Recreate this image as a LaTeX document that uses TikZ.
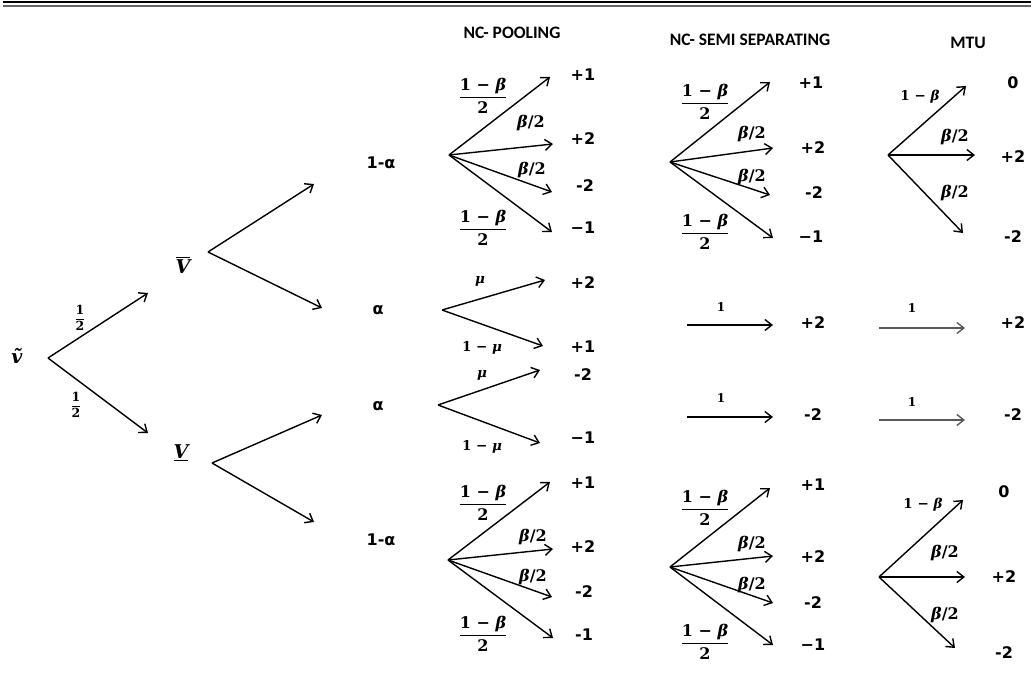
\documentclass[tikz,border=0pt]{standalone}
\usepackage{amsmath}
\usepackage{fontspec}
\setmainfont{DejaVu Sans}
\newfontfamily\hdfont{Carlito}
\newfontfamily\mfont{DejaVu Serif}
\usetikzlibrary{arrows.meta}
\tikzset{
  num/.style={inner sep=0pt,font=\fontsize{16}{18}\selectfont\bfseries},
  one/.style={inner sep=0pt,font=\mfont\fontsize{12}{14}\selectfont\bfseries},
  hd/.style={inner sep=0pt,font=\hdfont\fontsize{17.5}{19}\selectfont\bfseries},
  mth/.style={inner sep=0pt,font=\mfont\fontsize{16}{18}\selectfont\bfseries},
  smth/.style={inner sep=0pt,font=\mfont\fontsize{16}{18}\selectfont\bfseries},
  tmth/.style={inner sep=0pt,font=\mfont\fontsize{13.5}{15}\selectfont\bfseries},
  hmth/.style={inner sep=0pt,font=\mfont\fontsize{12.5}{14}\selectfont\bfseries},
  big/.style={inner sep=0pt,font=\mfont\fontsize{19}{21}\selectfont\bfseries\itshape},
  arr/.style={line width=1.4pt,-{Straight Barb[length=7pt,width=11pt]}},
  garr/.style={arr,draw=black!65}
}
\newcommand{\bt}{{\itshape β}}
\newcommand{\mmu}{{\itshape μ}}
\newcommand{\fb}{$\dfrac{\text{1 − \bt}}{\text{2}}$}
\newcommand{\bh}{\bt/2}
\begin{document}
\begin{tikzpicture}[x=1pt,y=-1pt]
\useasboundingbox (0,0) rectangle (1034,677);
\fill[white] (0,0) rectangle (1034,677);
% top rules
\draw[line width=2pt] (3,2.5) -- (1031,2.5);
\draw[line width=1.4pt,black!60] (3,6) -- (1031,6);
% headers
\node[hd] (h1) at (512,33) {NC- POOLING};
\node[hd] (h2) at (750,40) {NC- SEMI SEPARATING};
\node[hd] (h3) at (968,43) {MTU};
% root
\node[big] (rl) at (17,356) {ṽ};
\coordinate (r) at (48,358);
\coordinate (rt1) at (148,293);
\coordinate (rt2) at (148,433);
\draw[arr] (r) -- (rt1);
\draw[arr] (r) -- (rt2);
\node[hmth] (h12a) at (80,318) {$\dfrac{\text{1}}{\text{2}}$};
\node[hmth] (h12b) at (76,405) {$\dfrac{\text{1}}{\text{2}}$};
% V bar / V under
\node[big] (Vbl) at (183,265) {$\overline{\text{V}}$};
\node[big] (Vul) at (181,453) {$\underline{\text{V}}$};
\coordinate (Vb) at (208,252);
\coordinate (Vu) at (212,463);
\coordinate (vt1) at (314,184);
\coordinate (vt2) at (322,308);
\coordinate (vt3) at (322,415);
\coordinate (vt4) at (314,522);
\draw[arr] (Vb) -- (vt1);
\draw[arr] (Vb) -- (vt2);
\draw[arr] (Vu) -- (vt3);
\draw[arr] (Vu) -- (vt4);
\node[num] (a1) at (381,163) {1-α};
\node[num] (a2) at (378,310) {α};
\node[num] (a3) at (378,406) {α};
\node[num] (a4) at (381,540) {1-α};
% ---------- NC pooling ----------
\coordinate (P1) at (449,155);
\coordinate (P1a) at (550,77);
\coordinate (P1b) at (553,144);
\coordinate (P1c) at (552,192);
\coordinate (P1d) at (552,232);
\foreach \t in {P1a,P1b,P1c,P1d} \draw[arr] (P1) -- (\t);
\node[num] (p1o1) at (583,75) {+1};
\node[num] (p1o2) at (583,139) {+2};
\node[num] (p1o3) at (585,186) {-2};
\node[num] (p1o4) at (583,228) {−1};
\node[mth] (p1f1) at (483,96) {\fb};
\node[smth] (p1b1) at (531,123) {\bh};
\node[smth] (p1b2) at (532,170) {\bh};
\node[mth] (p1f2) at (483,228) {\fb};
\coordinate (P2) at (442,310);
\coordinate (P2a) at (545,280);
\coordinate (P2b) at (543,346);
\draw[arr] (P2) -- (P2a);
\draw[arr] (P2) -- (P2b);
\node[tmth] (p2m1) at (480,281) {\mmu};
\node[tmth] (p2m2) at (482,348) {1 − \mmu};
\node[num] (p2o1) at (583,283) {+2};
\node[num] (p2o2) at (583,347) {+1};
\coordinate (P3) at (438,405);
\coordinate (P3a) at (540,370);
\coordinate (P3b) at (540,443);
\draw[arr] (P3) -- (P3a);
\draw[arr] (P3) -- (P3b);
\node[tmth] (p3m1) at (482,375) {\mmu};
\node[tmth] (p3m2) at (482,447) {1 − \mmu};
\node[num] (p3o1) at (583,375) {-2};
\node[num] (p3o2) at (583,438) {−1};
\coordinate (P4) at (448,560);
\coordinate (P4a) at (550,482);
\coordinate (P4b) at (553,549);
\coordinate (P4c) at (552,597);
\coordinate (P4d) at (553,638);
\foreach \t in {P4a,P4b,P4c,P4d} \draw[arr] (P4) -- (\t);
\node[num] (p4o1) at (583,483) {+1};
\node[num] (p4o2) at (583,547) {+2};
\node[num] (p4o3) at (584,592) {-2};
\node[num] (p4o4) at (584,635) {-1};
\node[mth] (p4f1) at (483,503) {\fb};
\node[smth] (p4b1) at (533,537) {\bh};
\node[smth] (p4b2) at (533,577) {\bh};
\node[mth] (p4f2) at (483,634) {\fb};
% ---------- NC semi separating ----------
\coordinate (S1) at (670,162);
\coordinate (S1a) at (770,82);
\coordinate (S1b) at (773,148);
\coordinate (S1c) at (770,195);
\coordinate (S1d) at (773,238);
\foreach \t in {S1a,S1b,S1c,S1d} \draw[arr] (S1) -- (\t);
\node[num] (s1o1) at (811,83) {+1};
\node[num] (s1o2) at (813,148) {+2};
\node[num] (s1o3) at (814,193) {-2};
\node[num] (s1o4) at (811,237) {−1};
\node[mth] (s1f1) at (705,102) {\fb};
\node[smth] (s1b1) at (752,134) {\bh};
\node[smth] (s1b2) at (752,177) {\bh};
\node[mth] (s1f2) at (705,232) {\fb};
\coordinate (S2) at (687,325);
\coordinate (S2a) at (773,325);
\draw[arr] (S2) -- (S2a);
\node[one] (s2l) at (721,307) {1};
\node[num] (s2o) at (813,323) {+2};
\coordinate (S3) at (687,417);
\coordinate (S3a) at (773,417);
\draw[arr] (S3) -- (S3a);
\node[one] (s3l) at (721,398) {1};
\node[num] (s3o) at (813,415) {-2};
\coordinate (S4) at (670,567);
\coordinate (S4a) at (770,488);
\coordinate (S4b) at (773,556);
\coordinate (S4c) at (773,603);
\coordinate (S4d) at (773,645);
\foreach \t in {S4a,S4b,S4c,S4d} \draw[arr] (S4) -- (\t);
\node[num] (s4o1) at (813,485) {+1};
\node[num] (s4o2) at (813,557) {+2};
\node[num] (s4o3) at (813,603) {-2};
\node[num] (s4o4) at (813,645) {−1};
\node[mth] (s4f1) at (705,508) {\fb};
\node[smth] (s4b1) at (752,544) {\bh};
\node[smth] (s4b2) at (752,585) {\bh};
\node[mth] (s4f2) at (705,642) {\fb};
% ---------- MTU ----------
\coordinate (M1) at (888,155);
\coordinate (M1a) at (966,86);
\coordinate (M1b) at (975,155);
\coordinate (M1c) at (963,233);
\foreach \t in {M1a,M1b,M1c} \draw[arr] (M1) -- (\t);
\node[num] (m1o1) at (1013,83) {0};
\node[num] (m1o2) at (1013,157) {+2};
\node[num] (m1o3) at (1013,237) {-2};
\node[tmth] (m1l1) at (920,97) {1 − \bt};
\node[smth] (m1l2) at (955,137) {\bh};
\node[smth] (m1l3) at (955,193) {\bh};
\coordinate (M2) at (879,328);
\coordinate (M2a) at (965,328);
\draw[garr] (M2) -- (M2a);
\node[one] (m2l) at (912,308) {1};
\node[num] (m2o) at (1013,323) {+2};
\coordinate (M3) at (879,420);
\coordinate (M3a) at (965,420);
\draw[garr] (M3) -- (M3a);
\node[one] (m3l) at (912,402) {1};
\node[num] (m3o) at (1013,415) {-2};
\coordinate (M4) at (879,577);
\coordinate (M4a) at (963,500);
\coordinate (M4b) at (965,577);
\coordinate (M4c) at (955,648);
\foreach \t in {M4a,M4b,M4c} \draw[arr] (M4) -- (\t);
\node[num] (m4o1) at (1004,492) {0};
\node[num] (m4o2) at (1004,577) {+2};
\node[num] (m4o3) at (1004,653) {-2};
\node[tmth] (m4l1) at (923,505) {1 − \bt};
\node[smth] (m4l2) at (945,553) {\bh};
\node[smth] (m4l3) at (945,615) {\bh};
\end{tikzpicture}
\end{document}
